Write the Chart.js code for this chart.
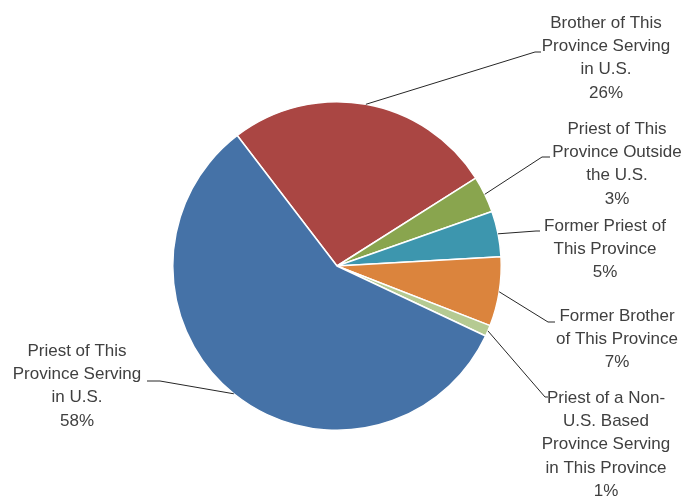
<!DOCTYPE html>
<html>
<head>
<meta charset="utf-8">
<script src="https://cdn.jsdelivr.net/npm/chart.js@4"></script>
<style>
  html, body { margin: 0; padding: 0; background: #fff; }
  #wrap { width: 685px; height: 498px; position: relative; }
</style>
</head>
<body>
<div id="wrap"><canvas id="chart"></canvas></div>
<script>
// categories, clockwise from the red slice
const categories = [
  ['Brother of This', 'Province Serving', 'in U.S.'],
  ['Priest of This', 'Province Outside', 'the U.S.'],
  ['Former Priest of', 'This Province'],
  ['Former Brother', 'of This Province'],
  ['Priest of a Non-', 'U.S. Based', 'Province Serving', 'in This Province'],
  ['Priest of This', 'Province Serving', 'in U.S.']
];
const values = [26.4, 3.6, 4.5, 6.8, 1.1, 57.6];
const pctLabels = ['26%', '3%', '5%', '7%', '1%', '58%'];
const colors = ['#AA4643', '#89A54E', '#3D96AE', '#DB843D', '#B5CA92', '#4572A7'];

// where each label block sits + its leader elbow / end
const labelPos = [
  { cx: 606, y: 23, elbow: [535, 52], end: [541, 52] },
  { cx: 617, y: 129, elbow: [542, 157], end: [550, 157] },
  { cx: 605, y: 226, elbow: [536, 231], end: [540, 231] },
  { cx: 617, y: 316, elbow: [548, 322], end: [555, 322] },
  { cx: 606, y: 398, elbow: [545, 397], end: [548, 397] },
  { cx: 77, y: 351, elbow: [160, 381], end: [147, 381] }
];
const lineH = 23.3;

const leaderLabels = {
  id: 'leaderLabels',
  afterDatasetsDraw(chart) {
    const ctx = chart.ctx;
    const arcs = chart.getDatasetMeta(0).data;
    ctx.save();
    arcs.forEach((arc, i) => {
      const p = labelPos[i];
      const mid = (arc.startAngle + arc.endAngle) / 2;
      const rx = arc.x + Math.cos(mid) * arc.outerRadius;
      const ry = arc.y + Math.sin(mid) * arc.outerRadius;
      ctx.strokeStyle = '#262626';
      ctx.lineWidth = 1;
      ctx.beginPath();
      ctx.moveTo(rx, ry);
      ctx.lineTo(p.elbow[0], p.elbow[1]);
      ctx.lineTo(p.end[0], p.end[1]);
      ctx.stroke();

      ctx.fillStyle = '#404040';
      ctx.font = '17px "Liberation Sans", Arial, sans-serif';
      ctx.textAlign = 'center';
      ctx.textBaseline = 'middle';
      const lines = categories[i].concat([pctLabels[i]]);
      lines.forEach((t, k) => ctx.fillText(t, p.cx, p.y + k * lineH));
    });
    ctx.restore();
  }
};

new Chart(document.getElementById('chart'), {
  type: 'pie',
  data: {
    labels: categories.map(c => c.join(' ')),
    datasets: [{
      data: values,
      backgroundColor: colors,
      borderColor: '#ffffff',
      borderWidth: 1.5
    }]
  },
  options: {
    responsive: true,
    maintainAspectRatio: false,
    animation: false,
    rotation: -37.4,
    layout: { padding: { left: 172, right: 183, top: 101, bottom: 67 } },
    plugins: {
      legend: { display: false },
      tooltip: { enabled: false }
    }
  },
  plugins: [leaderLabels]
});
</script>
</body>
</html>
